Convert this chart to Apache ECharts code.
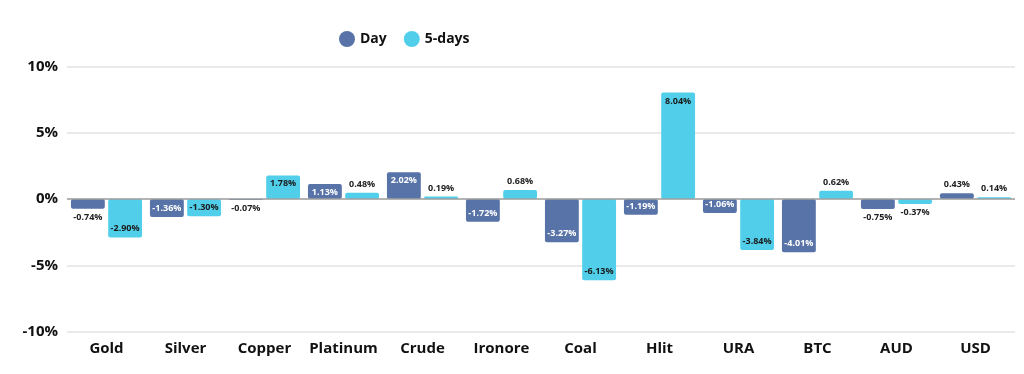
<!DOCTYPE html>
<html>
<head>
<meta charset="utf-8">
<script src="https://cdn.jsdelivr.net/npm/echarts@6/dist/echarts.min.js"></script>
<style>html,body{margin:0;padding:0;background:#fff}#c{width:1024px;height:374px}</style>
</head>
<body>
<div id="c"></div>
<script>
const categories = ['Gold','Silver','Copper','Platinum','Crude','Ironore','Coal','Hlit','URA','BTC','AUD','USD'];
const dayValues = [-0.74,-1.36,-0.07,1.13,2.02,-1.72,-3.27,-1.19,-1.06,-4.01,-0.75,0.43];
const fiveDayValues = [-2.90,-1.30,1.78,0.48,0.19,0.68,-6.13,8.04,-3.84,0.62,-0.37,0.14];
const yTicks = [-10,-5,0,5,10];

const FONT = 'Open Sans';
function mk(vals, insideColor) {
  return vals.map(v => {
    const big = Math.abs(v) >= 1;
    let pos;
    if (big) pos = v >= 0 ? 'insideTop' : 'insideBottom';
    else pos = v >= 0 ? 'top' : 'bottom';
    return {
      value: v,
      label: {
        show: true,
        position: pos,
        distance: 4,
        color: big ? insideColor : '#222',
        fontSize: 9,
        fontWeight: 'bold',
        fontFamily: FONT,
        formatter: p => p.value.toFixed(2) + '%'
      }
    };
  });
}

const chart = echarts.init(document.getElementById('c'), null, {renderer: 'canvas'});
chart.setOption({
  animation: false,
  legend: {
    top: 26,
    left: 334,
    icon: 'circle',
    itemWidth: 16,
    itemHeight: 16,
    itemGap: 17,
    textStyle: {fontFamily: FONT, fontWeight: 'bold', fontSize: 14, color: '#111'},
    data: ['Day', '5-days']
  },
  grid: {left: 67, right: 9, top: 66.5, bottom: 42.5, containLabel: false},
  xAxis: {
    type: 'category',
    data: categories,
    axisLine: {show: false},
    axisTick: {show: false},
    axisLabel: {
      fontFamily: FONT, fontWeight: 'bold', fontSize: 15, color: '#111',
      margin: 10, interval: 0
    }
  },
  yAxis: {
    type: 'value',
    min: yTicks[0],
    max: yTicks[yTicks.length - 1],
    interval: 5,
    axisLine: {show: false},
    axisTick: {show: false},
    splitLine: {lineStyle: {color: '#e3e3e3', width: 1.5}},
    axisLabel: {
      fontFamily: FONT, fontWeight: 'bold', fontSize: 15, color: '#111',
      margin: 9,
      formatter: v => v + '%'
    }
  },
  series: [
    {
      name: 'Day', type: 'bar',
      data: mk(dayValues, '#ffffff'),
      itemStyle: {color: '#5873a8', borderRadius: 2},
      barGap: '10%', barCategoryGap: '10%',
      markLine: {
        silent: true, symbol: 'none', label: {show: false},
        lineStyle: {color: '#a0a0a0', type: 'solid', width: 1.5},
        data: [{yAxis: 0}]
      }
    },
    {
      name: '5-days', type: 'bar',
      data: mk(fiveDayValues, '#1a1a1a'),
      itemStyle: {color: '#51cfea', borderRadius: 2},
      barGap: '10%', barCategoryGap: '10%'
    }
  ]
});
</script>
</body>
</html>
